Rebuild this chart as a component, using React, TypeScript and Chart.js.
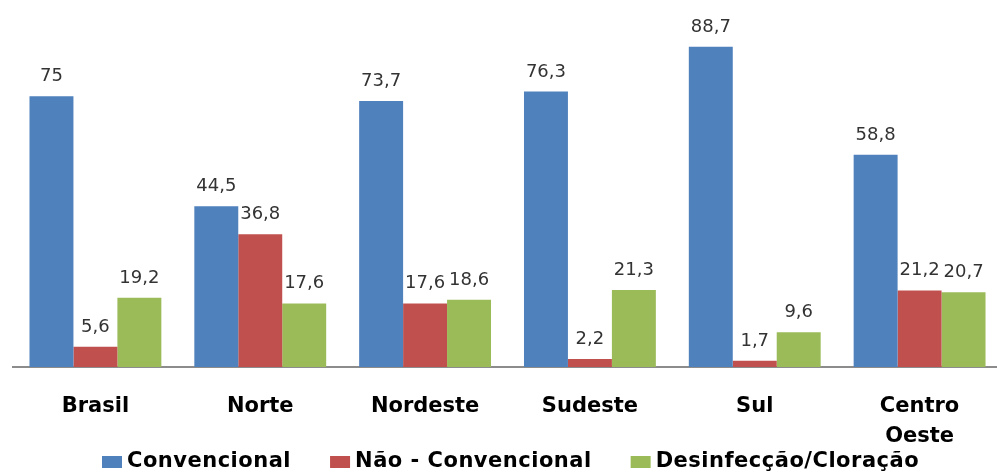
import React, { useEffect, useRef } from 'react';
import { Chart, registerables } from 'chart.js';

Chart.register(...registerables);

const categories: (string | string[])[] = ['Brasil', 'Norte', 'Nordeste', 'Sudeste', 'Sul', ['Centro', 'Oeste']];
const seriesNames = ['Convencional', 'Não - Convencional', 'Desinfecção/Cloração'];
const convencional = [75, 44.5, 73.7, 76.3, 88.7, 58.8];
const naoConvencional = [5.6, 36.8, 17.6, 2.2, 1.7, 21.2];
const desinfeccao = [19.2, 17.6, 18.6, 21.3, 9.6, 20.7];
const seriesColors = ['#4F81BD', '#C0504D', '#9BBB59'];

const valueLabels = {
  id: 'valueLabels',
  afterDatasetsDraw(chart: any) {
    const ctx = chart.ctx;
    ctx.save();
    ctx.font = '18px "DejaVu Sans"';
    ctx.fillStyle = '#333333';
    ctx.textAlign = 'center';
    ctx.textBaseline = 'alphabetic';
    chart.data.datasets.forEach((ds: any, i: number) => {
      const meta = chart.getDatasetMeta(i);
      meta.data.forEach((bar: any, j: number) => {
        const v = ds.data[j];
        ctx.fillText(String(v).replace('.', ','), bar.x, bar.y - 15);
      });
    });
    ctx.restore();
  },
};

const bottomLegend = {
  id: 'bottomLegend',
  afterDraw(chart: any) {
    const ctx = chart.ctx;
    ctx.save();
    ctx.font = 'bold 21px "DejaVu Sans"';
    (ctx as any).letterSpacing = '0.5px';
    ctx.textBaseline = 'middle';
    ctx.textAlign = 'left';
    let x = 102;
    const y = 462;
    chart.data.datasets.forEach((ds: any) => {
      ctx.fillStyle = ds.backgroundColor;
      ctx.fillRect(x, y - 6, 20, 12);
      ctx.fillStyle = '#000000';
      ctx.fillText(ds.label, x + 25, y);
      x += 25 + ctx.measureText(ds.label).width + 39;
    });
    ctx.restore();
  },
};

export default function App() {
  const canvasRef = useRef<HTMLCanvasElement | null>(null);

  useEffect(() => {
    if (!canvasRef.current) return;
    const seriesData = [convencional, naoConvencional, desinfeccao];
    const chart = new Chart(canvasRef.current, {
      type: 'bar',
      data: {
        labels: categories,
        datasets: seriesNames.map((name, i) => ({
          label: name,
          data: seriesData[i],
          backgroundColor: seriesColors[i],
          borderWidth: 0,
          categoryPercentage: 0.8,
          barPercentage: 1.0,
        })),
      },
      options: {
        animation: false,
        responsive: true,
        maintainAspectRatio: false,
        layout: { padding: { left: 13, right: 1, top: 6, bottom: 0 } },
        plugins: {
          legend: { display: false },
          tooltip: { enabled: false },
        },
        scales: {
          x: {
            grid: { display: false, drawTicks: false },
            border: { display: true, color: '#8c8c8c', width: 2 },
            ticks: {
              color: '#000000',
              font: { family: 'DejaVu Sans', size: 21, weight: 'bold', lineHeight: 1.4 },
              padding: 25,
              maxRotation: 0,
              autoSkip: false,
            },
            afterFit(scale: any) {
              scale.height = 105;
            },
          },
          y: { display: false, min: 0, max: 100 },
        },
      },
      plugins: [valueLabels, bottomLegend],
    });
    return () => chart.destroy();
  }, []);

  return (
    <div style={{ position: 'fixed', left: 0, top: 0, width: '997px', height: '472px', overflow: 'hidden', background: '#ffffff' }}>
      <div style={{ position: 'relative', width: '1003px', height: '472px' }}>
        <canvas ref={canvasRef} />
      </div>
    </div>
  );
}
